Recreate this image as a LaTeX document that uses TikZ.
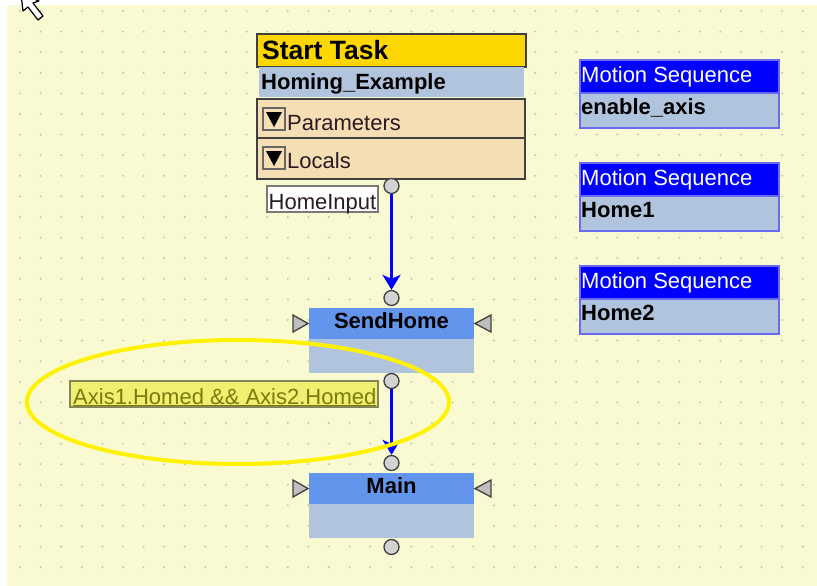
\documentclass[tikz,border=0pt]{standalone}
\usepackage{fontspec}
\setmainfont{Liberation Sans}
\usetikzlibrary{arrows.meta,positioning}
\pgfdeclarelayer{background}
\pgfdeclarelayer{foreground}
\pgfsetlayers{background,main,foreground}

\definecolor{canvas}{HTML}{FAFAD2}
\definecolor{griddot}{HTML}{C4C4B4}
\definecolor{taskgold}{HTML}{FFD700}
\definecolor{steel}{HTML}{B0C4DE}
\definecolor{wheatfill}{HTML}{F5DEB3}
\definecolor{cornflower}{HTML}{6495ED}
\definecolor{seqblue}{HTML}{0000FF}
\definecolor{seqedge}{HTML}{6A6AF0}
\definecolor{portgray}{HTML}{D3D3D3}
\definecolor{condfill}{HTML}{F0F070}
\definecolor{condtext}{HTML}{7A7A10}
\definecolor{condedge}{HTML}{85855A}
\definecolor{outline}{HTML}{404040}
\definecolor{ink}{HTML}{2A1A24}

\newcommand{\uifont}{\fontsize{22}{24}\selectfont}
\newcommand{\titlefont}{\fontsize{26.5}{28}\selectfont\bfseries}

\tikzset{
  cell/.style={rectangle, anchor=north west, inner sep=0pt, outer sep=0pt},
  txt/.style={anchor=base west, inner sep=0pt, font=\uifont, text=ink},
  btxt/.style={txt, font=\uifont\bfseries, text=black},
  expander/.style={cell, draw=outline!80, line width=1.2pt, fill=wheatfill, minimum size=22pt},
  port/.style={circle, draw=outline, fill=portgray, line width=1.3pt, minimum size=15pt, inner sep=0pt},
  flow/.style={draw=seqblue, line width=3pt, -{Stealth[length=15pt,width=18pt,inset=4pt]}},
  pin/.style={draw=outline, fill=portgray!90!black, line width=1.3pt, line join=miter},
}

\begin{document}
\begin{tikzpicture}[x=1pt,y=-1pt]
\useasboundingbox (0,0) rectangle (817,586);
\begin{pgfonlayer}{background}
\fill[white] (0,0) rectangle (817,586);
\fill[canvas] (7,5) rectangle (817,586);
% dotted grid
\foreach \i in {0,...,38}
  \foreach \j in {0,...,27}
    \fill[griddot] (20+\i*20.6,11+\j*20.6) circle (1.1);
\end{pgfonlayer}

% start task block
\node[cell, fill=taskgold, draw=outline, line width=2pt, minimum width=269pt, minimum height=33pt] (sthead) at (257,34) {};
\node[txt, font=\titlefont, text=black] (sttitle) at (262,60) {Start Task};
\node[cell, fill=steel, minimum width=265pt, minimum height=30pt] (stname) at (259,67) {};
\node[btxt] (stnametxt) at (261,89) {Homing\_Example};
\node[cell, fill=wheatfill, draw=outline, line width=2pt, minimum width=268pt, minimum height=39pt] (stpar) at (257,99) {};
\node[cell, fill=wheatfill, draw=outline, line width=2pt, minimum width=268pt, minimum height=41pt] (stloc) at (257,138) {};
\node[expander] (parico) at (263,108) {};
\fill[black] ([shift={(3,4)}]parico.north west) -- ([shift={(-3,4)}]parico.north east) -- ([shift={(0,-3)}]parico.south) -- cycle;
\node[txt] (partxt) at (287,130) {Parameters};
\node[expander] (locico) at (263,147) {};
\fill[black] ([shift={(3,4)}]locico.north west) -- ([shift={(-3,4)}]locico.north east) -- ([shift={(0,-3)}]locico.south) -- cycle;
\node[txt] (loctxt) at (287,168) {Locals};
\node[cell, fill=white, draw=outline!70, line width=1.5pt, minimum width=111pt, minimum height=26pt] (homein) at (267,186) {};
\node[txt, anchor=base] (homeintxt) at (322.5,209) {HomeInput};
\node[port] (stout) at (391.5,186) {};

% SendHome block
\node[cell, fill=cornflower, minimum width=165pt, minimum height=31pt] (shhead) at (309,308) {};
\node[cell, fill=steel, minimum width=165pt, minimum height=34pt] (shbody) at (309,339) {};
\node[btxt, anchor=base] (shtxt) at (391.5,328) {SendHome};
\node[port] (shin) at (391.5,298) {};
\node[port] (shout) at (391.5,381) {};
\draw[pin] ([xshift=-16pt,yshift=8.5pt]shhead.west) -- ([xshift=-1pt]shhead.west) -- ([xshift=-16pt,yshift=-8.5pt]shhead.west) -- cycle;
\draw[pin] ([xshift=17pt,yshift=8.5pt]shhead.east) -- ([xshift=1pt]shhead.east) -- ([xshift=17pt,yshift=-8.5pt]shhead.east) -- cycle;

% Main block
\node[cell, fill=cornflower, minimum width=165pt, minimum height=31pt] (mnhead) at (309,473) {};
\node[cell, fill=steel, minimum width=165pt, minimum height=34pt] (mnbody) at (309,504) {};
\node[btxt, anchor=base] (mntxt) at (391.5,493) {Main};
\node[port] (mnin) at (391.5,463) {};
\node[port] (mnout) at (391.5,547) {};
\draw[pin] ([xshift=-16pt,yshift=8.5pt]mnhead.west) -- ([xshift=-1pt]mnhead.west) -- ([xshift=-16pt,yshift=-8.5pt]mnhead.west) -- cycle;
\draw[pin] ([xshift=17pt,yshift=8.5pt]mnhead.east) -- ([xshift=1pt]mnhead.east) -- ([xshift=17pt,yshift=-8.5pt]mnhead.east) -- cycle;

% transition condition
\node[cell, fill=condfill, draw=condedge, line width=1.5pt, minimum width=308pt, minimum height=26pt] (cond) at (70,381) {};
\node[txt, text=condtext] (condtxt) at (73,404) {\underline{Axis1.Homed \&\& Axis2.Homed}};

% links
\draw[flow] (stout) -- (shin);
\draw[flow] (shout) -- (mnin);

% motion sequences
\foreach \y/\nm/\id in {60/{enable\_axis}/msa, 163/{Home1}/msb, 266/{Home2}/msc} {
  \node[cell, fill=seqblue, draw=seqedge, line width=1.3pt, minimum width=199pt, minimum height=33pt] (\id head) at (580,\y) {};
  \node[cell, fill=steel, draw=seqedge, line width=1.3pt, minimum width=199pt, minimum height=35pt] (\id body) at (580,\y+33) {};
  \node[txt, text=white] (\id kind) at (581,\y+22) {Motion Sequence};
  \node[btxt] (\id name) at (581,\y+54) {\nm};
}

\begin{pgfonlayer}{foreground}
% highlight ring
\draw[yellow, line width=4pt] (238,402) ellipse [x radius=211, y radius=62];
% mouse pointer
\draw[fill=white, line width=1.2pt, line join=round] (21,-6) -- (23,11) -- (28,7) -- (38,20) -- (43,16) -- (33,3) -- (39,1) -- cycle;
\end{pgfonlayer}
\end{tikzpicture}
\end{document}
